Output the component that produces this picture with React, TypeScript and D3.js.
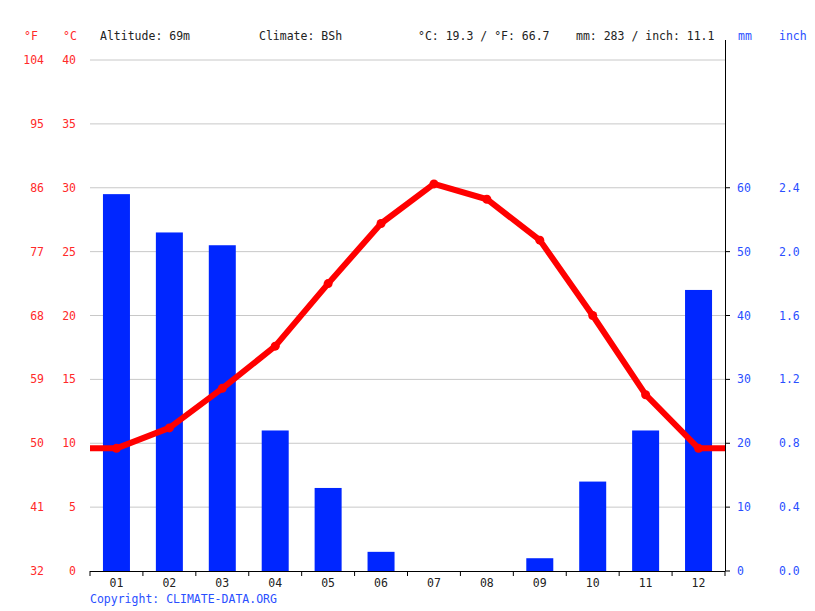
import React from 'react';
import * as d3 from 'd3';

const months = ['01', '02', '03', '04', '05', '06', '07', '08', '09', '10', '11', '12'];
const tempC = [9.6, 11.2, 14.3, 17.6, 22.5, 27.2, 30.3, 29.1, 25.9, 20.0, 13.8, 9.6];
const precipMm = [59, 53, 51, 22, 13, 3, 0, 0, 2, 14, 22, 44];
const tempTicksC = [0, 5, 10, 15, 20, 25, 30, 35, 40];
const tempTicksF = ['32', '41', '50', '59', '68', '77', '86', '95', '104'];
const mmTicks = [0, 10, 20, 30, 40, 50, 60];
const inchTicks = ['0.0', '0.4', '0.8', '1.2', '1.6', '2.0', '2.4'];

const RED = '#ff0000';
const BLUE = '#0026ff';
const LABEL_BLUE = '#2a4fff';
const LABEL_RED = '#ff2a2a';
const FONT = '"DejaVu Sans Mono", "Liberation Mono", monospace';

const App: React.FC = () => {
  const left = 90;
  const right = 725;
  const top = 60;
  const bottom = 571;

  const x = d3.scaleBand<string>().domain(months).range([left, right]).paddingInner(0).paddingOuter(0);
  const yT = d3.scaleLinear().domain([0, 40]).range([bottom, top]);
  const yP = d3.scaleLinear().domain([0, 80]).range([bottom, top]);

  const cx = (m: string) => (x(m) || 0) + x.bandwidth() / 2;
  const barW = 27;

  const pts: [number, number][] = months.map((m, i) => [cx(m), yT(tempC[i])]);
  const linePts: [number, number][] = [
    [left, yT(tempC[0])],
    ...pts,
    [right, yT(tempC[tempC.length - 1])],
  ];
  const line = d3.line<[number, number]>()(linePts) || '';

  return (
    <svg width={815} height={611} style={{ position: 'absolute', left: 0, top: 0, background: '#fff' }} fontFamily={FONT} fontSize={11.5}>
      {/* header */}
      <text x={24} y={40} fill={LABEL_RED}>°F</text>
      <text x={63} y={40} fill={LABEL_RED}>°C</text>
      <text x={100} y={40} fill="#222">Altitude: 69m</text>
      <text x={259} y={40} fill="#222">Climate: BSh</text>
      <text x={418} y={40} fill="#222">°C: 19.3 / °F: 66.7</text>
      <text x={576} y={40} fill="#222">mm: 283 / inch: 11.1</text>
      <text x={738} y={40} fill={LABEL_BLUE}>mm</text>
      <text x={779} y={40} fill={LABEL_BLUE}>inch</text>

      {/* grid + left labels */}
      {tempTicksC.map((t, i) => (
        <g key={t}>
          {t > 0 && <line x1={left} x2={right} y1={yT(t)} y2={yT(t)} stroke="#c8c8c8" strokeWidth={1} />}
          <text x={44} y={yT(t) + 4} textAnchor="end" fill={LABEL_RED}>{tempTicksF[i]}</text>
          <text x={76} y={yT(t) + 4} textAnchor="end" fill={LABEL_RED}>{t}</text>
        </g>
      ))}

      {/* bars */}
      {months.map((m, i) => (
        <rect key={m} x={cx(m) - barW / 2} width={barW} y={yP(precipMm[i])} height={bottom - yP(precipMm[i])} fill={BLUE} />
      ))}

      {/* temperature line */}
      <path d={line} fill="none" stroke={RED} strokeWidth={6} strokeLinejoin="round" />
      {pts.map((p, i) => (
        <circle key={i} cx={p[0]} cy={p[1]} r={4.5} fill={RED} />
      ))}

      {/* bottom axis */}
      <line x1={left} x2={right} y1={bottom + 0.5} y2={bottom + 0.5} stroke="#000" />
      {d3.range(months.length + 1).map(i => {
        const xx = left + i * x.bandwidth();
        return <line key={i} x1={xx} x2={xx} y1={bottom} y2={bottom + 5} stroke="#000" />;
      })}
      {months.map(m => (
        <text key={m} x={cx(m)} y={bottom + 16} textAnchor="middle" fill="#222">{m}</text>
      ))}

      {/* right axis */}
      <line x1={right + 0.5} x2={right + 0.5} y1={40} y2={bottom} stroke="#000" />
      {mmTicks.map((t, i) => (
        <g key={t}>
          <line x1={right} x2={right + 5} y1={yP(t)} y2={yP(t)} stroke="#000" />
          <text x={737} y={yP(t) + 4} fill={LABEL_BLUE}>{t}</text>
          <text x={779} y={yP(t) + 4} fill={LABEL_BLUE}>{inchTicks[i]}</text>
        </g>
      ))}

      <text x={90} y={603} fill={LABEL_BLUE}>Copyright: CLIMATE-DATA.ORG</text>
    </svg>
  );
};

export default App;
